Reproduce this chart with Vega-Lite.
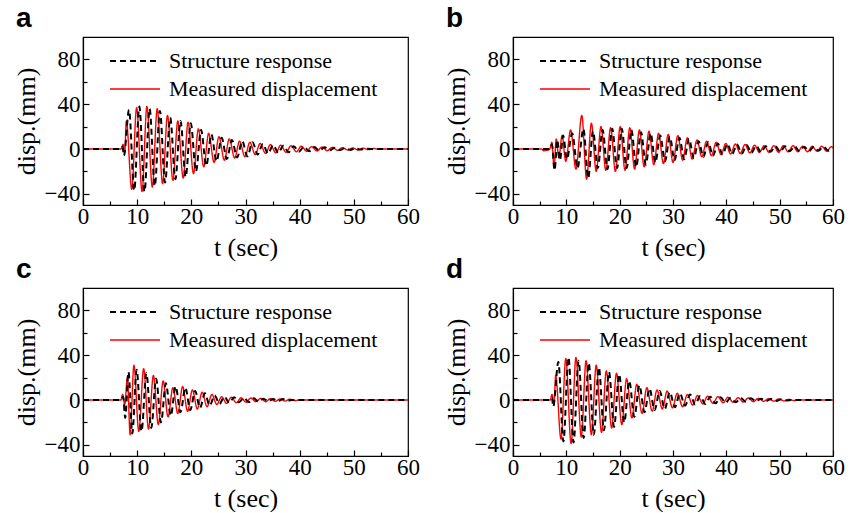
{
"$schema": "https://vega.github.io/schema/vega-lite/v6.json",
"background": "white",
"padding": {"left": 12, "top": 4, "right": 5, "bottom": 0},
"config": {
  "view": {"stroke": "#000", "strokeWidth": 1.2},
  "axis": {"domainColor": "#000", "domainWidth": 1.2, "tickColor": "#000", "tickWidth": 1.2, "labelColor": "#000", "titleColor": "#000", "titleFontWeight": "normal", "grid": false, "labelFlush": false, "labelOverlap": false},
  "axisX": {"labelFont": "Times New Roman", "titleFont": "Times New Roman"},
  "axisY": {"labelFont": "Times New Roman", "titleFont": "Times New Roman"},
  "legend": {"labelFont": "Liberation Serif", "labelFontSize": 22, "labelColor": "#000", "symbolStrokeWidth": 1.6, "labelOffset": 8, "padding": 0, "labelLimit": 0}
},
"datasets": {
"a": [{"s":"M","t":0,"v":0},{"s":"M","t":7,"v":0},{"s":"M","t":7.4,"v":4},{"s":"M","t":7.7,"v":-3},{"s":"M","t":8,"v":25},{"s":"M","t":9,"v":-36},{"s":"M","t":9.9,"v":37},{"s":"M","t":10.9,"v":-38},{"s":"M","t":11.8,"v":38},{"s":"M","t":12.8,"v":-34},{"s":"M","t":13.7,"v":36},{"s":"M","t":14.7,"v":-31},{"s":"M","t":15.6,"v":30},{"s":"M","t":16.6,"v":-28},{"s":"M","t":17.5,"v":25},{"s":"M","t":18.5,"v":-26},{"s":"M","t":19.4,"v":24},{"s":"M","t":20.4,"v":-22},{"s":"M","t":21.3,"v":18},{"s":"M","t":22.3,"v":-16},{"s":"M","t":23.2,"v":14},{"s":"M","t":24.2,"v":-12},{"s":"M","t":25.1,"v":11},{"s":"M","t":26.1,"v":-10},{"s":"M","t":27,"v":9},{"s":"M","t":28,"v":-8},{"s":"M","t":28.9,"v":7},{"s":"M","t":29.9,"v":-7},{"s":"M","t":30.8,"v":6},{"s":"M","t":31.8,"v":-5},{"s":"M","t":32.7,"v":5},{"s":"M","t":33.7,"v":-4},{"s":"M","t":34.6,"v":4},{"s":"M","t":35.6,"v":-3.5},{"s":"M","t":36.5,"v":3.5},{"s":"M","t":37.5,"v":-3},{"s":"M","t":38.4,"v":3},{"s":"M","t":39.4,"v":-2.5},{"s":"M","t":40.3,"v":2.5},{"s":"M","t":41.3,"v":-2},{"s":"M","t":42.2,"v":2},{"s":"M","t":43.2,"v":-1.8},{"s":"M","t":44.1,"v":1.8},{"s":"M","t":45.1,"v":-1.5},{"s":"M","t":46,"v":1.5},{"s":"M","t":47,"v":-1.2},{"s":"M","t":47.9,"v":1.2},{"s":"M","t":48.9,"v":-1},{"s":"M","t":49.8,"v":1},{"s":"M","t":50.8,"v":-1},{"s":"M","t":51.7,"v":0.8},{"s":"M","t":52.7,"v":-0.6},{"s":"M","t":53.6,"v":0.5},{"s":"M","t":54.6,"v":-0.3},{"s":"M","t":55.5,"v":0},{"s":"M","t":60,"v":0},
{"s":"S","t":0,"v":0},{"s":"S","t":7,"v":0},{"s":"S","t":7.3,"v":2},{"s":"S","t":7.55,"v":-6},{"s":"S","t":8.5,"v":35},{"s":"S","t":9.45,"v":-37},{"s":"S","t":10.4,"v":38},{"s":"S","t":11.35,"v":-38},{"s":"S","t":12.3,"v":36},{"s":"S","t":13.25,"v":-33},{"s":"S","t":14.2,"v":34},{"s":"S","t":15.15,"v":-30},{"s":"S","t":16.1,"v":28},{"s":"S","t":17.05,"v":-27},{"s":"S","t":18,"v":25},{"s":"S","t":18.95,"v":-25},{"s":"S","t":19.9,"v":23},{"s":"S","t":20.85,"v":-20},{"s":"S","t":21.8,"v":17},{"s":"S","t":22.75,"v":-15},{"s":"S","t":23.7,"v":13},{"s":"S","t":24.65,"v":-11},{"s":"S","t":25.6,"v":10},{"s":"S","t":26.55,"v":-9},{"s":"S","t":27.5,"v":8},{"s":"S","t":28.45,"v":-7.5},{"s":"S","t":29.4,"v":7},{"s":"S","t":30.35,"v":-6.5},{"s":"S","t":31.3,"v":6},{"s":"S","t":32.25,"v":-5},{"s":"S","t":33.2,"v":4.5},{"s":"S","t":34.15,"v":-4},{"s":"S","t":35.1,"v":3.5},{"s":"S","t":36.05,"v":-3.5},{"s":"S","t":37,"v":3},{"s":"S","t":37.95,"v":-3},{"s":"S","t":38.9,"v":2.5},{"s":"S","t":39.85,"v":-2.5},{"s":"S","t":40.8,"v":2},{"s":"S","t":41.75,"v":-2},{"s":"S","t":42.7,"v":1.8},{"s":"S","t":43.65,"v":-1.5},{"s":"S","t":44.6,"v":1.5},{"s":"S","t":45.55,"v":-1.2},{"s":"S","t":46.5,"v":1.2},{"s":"S","t":47.45,"v":-1},{"s":"S","t":48.4,"v":1},{"s":"S","t":49.35,"v":-0.8},{"s":"S","t":50.3,"v":0.8},{"s":"S","t":51.25,"v":-0.5},{"s":"S","t":52.2,"v":0.4},{"s":"S","t":53.15,"v":0},{"s":"S","t":60,"v":0}],
"b": [{"s":"M","t":0,"v":0},{"s":"M","t":5.4,"v":0},{"s":"M","t":5.7,"v":-1.5},{"s":"M","t":6.5,"v":-1},{"s":"M","t":6.9,"v":0},{"s":"M","t":7.3,"v":6},{"s":"M","t":7.7,"v":-17},{"s":"M","t":8.1,"v":9},{"s":"M","t":8.6,"v":-8},{"s":"M","t":9.2,"v":12},{"s":"M","t":9.9,"v":-11},{"s":"M","t":10.8,"v":17},{"s":"M","t":11.8,"v":-18},{"s":"M","t":12.9,"v":30},{"s":"M","t":13.8,"v":-27},{"s":"M","t":14.7,"v":23},{"s":"M","t":15.6,"v":-20},{"s":"M","t":16.5,"v":20},{"s":"M","t":17.4,"v":-19},{"s":"M","t":18.3,"v":19},{"s":"M","t":19.2,"v":-20},{"s":"M","t":20.1,"v":20},{"s":"M","t":21,"v":-19},{"s":"M","t":21.9,"v":19},{"s":"M","t":22.8,"v":-18},{"s":"M","t":23.7,"v":17},{"s":"M","t":24.6,"v":-16},{"s":"M","t":25.5,"v":16},{"s":"M","t":26.4,"v":-14},{"s":"M","t":27.3,"v":14},{"s":"M","t":28.2,"v":-13},{"s":"M","t":29.1,"v":13},{"s":"M","t":30,"v":-12},{"s":"M","t":30.9,"v":12},{"s":"M","t":31.8,"v":-10},{"s":"M","t":32.7,"v":10},{"s":"M","t":33.6,"v":-9},{"s":"M","t":34.5,"v":8},{"s":"M","t":35.4,"v":-7},{"s":"M","t":36.3,"v":7},{"s":"M","t":37.2,"v":-6},{"s":"M","t":38.1,"v":6},{"s":"M","t":39,"v":-5},{"s":"M","t":39.9,"v":5},{"s":"M","t":40.8,"v":-4.5},{"s":"M","t":41.7,"v":4.5},{"s":"M","t":42.6,"v":-4},{"s":"M","t":43.5,"v":4},{"s":"M","t":44.4,"v":-3.5},{"s":"M","t":45.3,"v":3.5},{"s":"M","t":46.2,"v":-3},{"s":"M","t":47.1,"v":3},{"s":"M","t":48,"v":-3},{"s":"M","t":48.9,"v":3},{"s":"M","t":49.8,"v":-3},{"s":"M","t":50.7,"v":3},{"s":"M","t":51.6,"v":-2.5},{"s":"M","t":52.5,"v":3},{"s":"M","t":53.4,"v":-2.5},{"s":"M","t":54.3,"v":2.5},{"s":"M","t":55.2,"v":-2.5},{"s":"M","t":56.1,"v":2.5},{"s":"M","t":57,"v":-2},{"s":"M","t":57.9,"v":2.5},{"s":"M","t":58.8,"v":-2},{"s":"M","t":59.7,"v":2},{"s":"M","t":60,"v":1.5},
{"s":"S","t":0,"v":0},{"s":"S","t":6.9,"v":0},{"s":"S","t":7.3,"v":4},{"s":"S","t":7.8,"v":-19},{"s":"S","t":8.3,"v":8},{"s":"S","t":8.8,"v":-10},{"s":"S","t":9.4,"v":12},{"s":"S","t":10.1,"v":-9},{"s":"S","t":11.1,"v":14},{"s":"S","t":12.1,"v":-17},{"s":"S","t":13.2,"v":18},{"s":"S","t":14.1,"v":-26},{"s":"S","t":15,"v":16},{"s":"S","t":15.9,"v":-17},{"s":"S","t":16.8,"v":17},{"s":"S","t":17.7,"v":-18},{"s":"S","t":18.6,"v":18},{"s":"S","t":19.5,"v":-17},{"s":"S","t":20.4,"v":18},{"s":"S","t":21.3,"v":-17},{"s":"S","t":22.2,"v":17},{"s":"S","t":23.1,"v":-16},{"s":"S","t":24,"v":15},{"s":"S","t":24.9,"v":-14},{"s":"S","t":25.8,"v":14},{"s":"S","t":26.7,"v":-12},{"s":"S","t":27.6,"v":12},{"s":"S","t":28.5,"v":-11},{"s":"S","t":29.4,"v":11},{"s":"S","t":30.3,"v":-10},{"s":"S","t":31.2,"v":10},{"s":"S","t":32.1,"v":-9},{"s":"S","t":33,"v":9},{"s":"S","t":33.9,"v":-8},{"s":"S","t":34.8,"v":7},{"s":"S","t":35.7,"v":-7},{"s":"S","t":36.6,"v":6},{"s":"S","t":37.5,"v":-6},{"s":"S","t":38.4,"v":5},{"s":"S","t":39.3,"v":-5},{"s":"S","t":40.2,"v":4.5},{"s":"S","t":41.1,"v":-4.5},{"s":"S","t":42,"v":4},{"s":"S","t":42.9,"v":-4},{"s":"S","t":43.8,"v":3.5},{"s":"S","t":44.7,"v":-3.5},{"s":"S","t":45.6,"v":3},{"s":"S","t":46.5,"v":-3},{"s":"S","t":47.4,"v":2.5},{"s":"S","t":48.3,"v":-2.5},{"s":"S","t":49.2,"v":2.5},{"s":"S","t":50.1,"v":-2.5},{"s":"S","t":51,"v":2.5},{"s":"S","t":51.9,"v":-2},{"s":"S","t":52.8,"v":2.5},{"s":"S","t":53.7,"v":-2},{"s":"S","t":54.6,"v":2},{"s":"S","t":55.5,"v":-2},{"s":"S","t":56.4,"v":2},{"s":"S","t":57.3,"v":-1.5},{"s":"S","t":58.2,"v":2},{"s":"S","t":59.1,"v":-1.5},{"s":"S","t":60,"v":0.5}],
"c": [{"s":"M","t":0,"v":0},{"s":"M","t":7,"v":0},{"s":"M","t":7.3,"v":5},{"s":"M","t":7.7,"v":-4},{"s":"M","t":8.2,"v":20},{"s":"M","t":8.7,"v":-31},{"s":"M","t":9.4,"v":31},{"s":"M","t":10.3,"v":-28},{"s":"M","t":11.2,"v":28},{"s":"M","t":12.1,"v":-26},{"s":"M","t":13,"v":22},{"s":"M","t":13.9,"v":-22},{"s":"M","t":14.8,"v":17},{"s":"M","t":15.7,"v":-15},{"s":"M","t":16.6,"v":11},{"s":"M","t":17.5,"v":-12},{"s":"M","t":18.4,"v":12},{"s":"M","t":19.3,"v":-10},{"s":"M","t":20.2,"v":9},{"s":"M","t":21.1,"v":-8},{"s":"M","t":22,"v":7},{"s":"M","t":22.9,"v":-6},{"s":"M","t":23.8,"v":5},{"s":"M","t":24.7,"v":-4},{"s":"M","t":25.6,"v":3},{"s":"M","t":26.5,"v":-3},{"s":"M","t":27.4,"v":2.5},{"s":"M","t":28.3,"v":-2.5},{"s":"M","t":29.2,"v":2},{"s":"M","t":30.1,"v":-2},{"s":"M","t":31,"v":1.8},{"s":"M","t":31.9,"v":-1.5},{"s":"M","t":32.8,"v":1.5},{"s":"M","t":33.7,"v":-1.5},{"s":"M","t":34.6,"v":1.2},{"s":"M","t":35.5,"v":-1.2},{"s":"M","t":36.4,"v":1},{"s":"M","t":37.3,"v":-1},{"s":"M","t":38.2,"v":0.8},{"s":"M","t":39.1,"v":-0.5},{"s":"M","t":40,"v":0},{"s":"M","t":60,"v":0},
{"s":"S","t":0,"v":0},{"s":"S","t":7,"v":0},{"s":"S","t":7.4,"v":3},{"s":"S","t":7.8,"v":-16},{"s":"S","t":8.4,"v":25},{"s":"S","t":9.1,"v":-30},{"s":"S","t":9.9,"v":27},{"s":"S","t":10.8,"v":-28},{"s":"S","t":11.7,"v":24},{"s":"S","t":12.6,"v":-25},{"s":"S","t":13.5,"v":19},{"s":"S","t":14.4,"v":-20},{"s":"S","t":15.3,"v":15},{"s":"S","t":16.2,"v":-14},{"s":"S","t":17.1,"v":12},{"s":"S","t":18,"v":-11},{"s":"S","t":18.9,"v":11},{"s":"S","t":19.8,"v":-9},{"s":"S","t":20.7,"v":8},{"s":"S","t":21.6,"v":-7},{"s":"S","t":22.5,"v":6},{"s":"S","t":23.4,"v":-5},{"s":"S","t":24.3,"v":4},{"s":"S","t":25.2,"v":-3.5},{"s":"S","t":26.1,"v":3},{"s":"S","t":27,"v":-2.5},{"s":"S","t":27.9,"v":2.5},{"s":"S","t":28.8,"v":-2},{"s":"S","t":29.7,"v":2},{"s":"S","t":30.6,"v":-1.8},{"s":"S","t":31.5,"v":1.5},{"s":"S","t":32.4,"v":-1.5},{"s":"S","t":33.3,"v":1.2},{"s":"S","t":34.2,"v":-1.2},{"s":"S","t":35.1,"v":1},{"s":"S","t":36,"v":-1},{"s":"S","t":36.9,"v":0.8},{"s":"S","t":37.8,"v":-0.5},{"s":"S","t":38.7,"v":0},{"s":"S","t":60,"v":0}],
"d": [{"s":"M","t":0,"v":0},{"s":"M","t":7,"v":0},{"s":"M","t":7.3,"v":5},{"s":"M","t":7.7,"v":-3},{"s":"M","t":8,"v":22},{"s":"M","t":9,"v":-35},{"s":"M","t":9.9,"v":37},{"s":"M","t":10.9,"v":-39},{"s":"M","t":11.8,"v":38},{"s":"M","t":12.8,"v":-33},{"s":"M","t":13.7,"v":35},{"s":"M","t":14.7,"v":-31},{"s":"M","t":15.6,"v":31},{"s":"M","t":16.6,"v":-29},{"s":"M","t":17.5,"v":26},{"s":"M","t":18.5,"v":-25},{"s":"M","t":19.4,"v":24},{"s":"M","t":20.4,"v":-22},{"s":"M","t":21.3,"v":19},{"s":"M","t":22.3,"v":-16},{"s":"M","t":23.2,"v":14},{"s":"M","t":24.2,"v":-12},{"s":"M","t":25.1,"v":11},{"s":"M","t":26.1,"v":-10},{"s":"M","t":27,"v":9},{"s":"M","t":28,"v":-8},{"s":"M","t":28.9,"v":8},{"s":"M","t":29.9,"v":-7},{"s":"M","t":30.8,"v":6},{"s":"M","t":31.8,"v":-6},{"s":"M","t":32.7,"v":5},{"s":"M","t":33.7,"v":-4.5},{"s":"M","t":34.6,"v":4},{"s":"M","t":35.6,"v":-3.5},{"s":"M","t":36.5,"v":3.5},{"s":"M","t":37.5,"v":-3},{"s":"M","t":38.4,"v":3},{"s":"M","t":39.4,"v":-2.5},{"s":"M","t":40.3,"v":2.5},{"s":"M","t":41.3,"v":-2},{"s":"M","t":42.2,"v":2},{"s":"M","t":43.2,"v":-1.8},{"s":"M","t":44.1,"v":1.8},{"s":"M","t":45.1,"v":-1.5},{"s":"M","t":46,"v":1.5},{"s":"M","t":47,"v":-1.2},{"s":"M","t":47.9,"v":1.2},{"s":"M","t":48.9,"v":-1},{"s":"M","t":49.8,"v":1},{"s":"M","t":50.8,"v":-0.8},{"s":"M","t":51.7,"v":0.6},{"s":"M","t":52.7,"v":-0.5},{"s":"M","t":53.6,"v":0.3},{"s":"M","t":54.6,"v":0},{"s":"M","t":60,"v":0},
{"s":"S","t":0,"v":0},{"s":"S","t":7,"v":0},{"s":"S","t":7.3,"v":2},{"s":"S","t":7.55,"v":-6},{"s":"S","t":8.5,"v":34},{"s":"S","t":9.45,"v":-37},{"s":"S","t":10.4,"v":38},{"s":"S","t":11.35,"v":-38},{"s":"S","t":12.3,"v":35},{"s":"S","t":13.25,"v":-34},{"s":"S","t":14.2,"v":33},{"s":"S","t":15.15,"v":-31},{"s":"S","t":16.1,"v":29},{"s":"S","t":17.05,"v":-27},{"s":"S","t":18,"v":25},{"s":"S","t":18.95,"v":-24},{"s":"S","t":19.9,"v":23},{"s":"S","t":20.85,"v":-20},{"s":"S","t":21.8,"v":17},{"s":"S","t":22.75,"v":-15},{"s":"S","t":23.7,"v":13},{"s":"S","t":24.65,"v":-11},{"s":"S","t":25.6,"v":10},{"s":"S","t":26.55,"v":-9},{"s":"S","t":27.5,"v":8},{"s":"S","t":28.45,"v":-8},{"s":"S","t":29.4,"v":7},{"s":"S","t":30.35,"v":-6.5},{"s":"S","t":31.3,"v":6},{"s":"S","t":32.25,"v":-5},{"s":"S","t":33.2,"v":5},{"s":"S","t":34.15,"v":-4},{"s":"S","t":35.1,"v":3.5},{"s":"S","t":36.05,"v":-3.5},{"s":"S","t":37,"v":3},{"s":"S","t":37.95,"v":-3},{"s":"S","t":38.9,"v":2.5},{"s":"S","t":39.85,"v":-2.5},{"s":"S","t":40.8,"v":2},{"s":"S","t":41.75,"v":-2},{"s":"S","t":42.7,"v":1.8},{"s":"S","t":43.65,"v":-1.5},{"s":"S","t":44.6,"v":1.5},{"s":"S","t":45.55,"v":-1.2},{"s":"S","t":46.5,"v":1.2},{"s":"S","t":47.45,"v":-1},{"s":"S","t":48.4,"v":1},{"s":"S","t":49.35,"v":-0.8},{"s":"S","t":50.3,"v":0.6},{"s":"S","t":51.25,"v":-0.4},{"s":"S","t":52.2,"v":0},{"s":"S","t":60,"v":0}]
},
"resolve": {"scale": {"color": "independent", "strokeDash": "independent", "strokeWidth": "independent"}, "legend": {"color": "independent", "strokeDash": "independent"}},
"spacing": -6,
"vconcat": [
{"hconcat": [
{"width": 325, "height": 168,
 "title": {"text": "a", "anchor": "start", "frame": "group", "dx": -67, "offset": 4, "font": "Liberation Sans", "fontSize": 28, "fontWeight": "bold", "color": "#000"},
 "data": {"name": "a"},
 "mark": {"type": "line", "interpolate": "monotone", "clip": true},
 "encoding": {
  "x": {"field": "t", "type": "quantitative", "scale": {"domain": [0, 60], "nice": false}, "axis": {"title": "t (sec)", "labelFontSize": 23, "titleFontSize": 26, "values": [0,5,10,15,20,25,30,35,40,45,50,55,60], "labelExpr": "datum.value % 10 === 0 ? datum.label : ''", "tickSize": {"condition": {"test": "datum.value % 10 === 0", "value": -6}, "value": -4}, "labelPadding": 6, "titlePadding": 4}},
  "y": {"field": "v", "type": "quantitative", "scale": {"domain": [-50, 100], "nice": false}, "axis": {"title": "disp.(mm)", "labelFontSize": 23, "titleFontSize": 26, "values": [-40,-20,0,20,40,60,80], "labelExpr": "datum.value % 40 === 0 ? datum.label : ''", "tickSize": {"condition": {"test": "datum.value % 40 === 0", "value": -6}, "value": -4}, "labelPadding": 9, "titlePadding": 5}},
  "color": {"field": "s", "type": "nominal", "scale": {"domain": ["S", "M"], "range": ["#000000", "#ff0000"]}, "legend": {"title": null, "orient": "none", "legendX": 26, "legendY": 10, "symbolType": "stroke", "symbolSize": 2500, "clipHeight": 28, "rowPadding": 0, "labelLimit": 0, "labelExpr": "datum.label === 'S' ? 'Structure response' : 'Measured displacement'"}},
  "strokeDash": {"field": "s", "type": "nominal", "scale": {"domain": ["S", "M"], "range": [[6, 4], [1, 0]]}, "legend": {"title": null, "orient": "none", "legendX": 26, "legendY": 10, "symbolType": "stroke", "symbolSize": 2500, "clipHeight": 28, "rowPadding": 0, "labelLimit": 0, "labelExpr": "datum.label === 'S' ? 'Structure response' : 'Measured displacement'"}},
  "strokeWidth": {"field": "s", "type": "nominal", "scale": {"domain": ["S", "M"], "range": [2, 1.4]}, "legend": null}
 }},
{"width": 320, "height": 168,
 "title": {"text": "b", "anchor": "start", "frame": "group", "dx": -67, "offset": 4, "font": "Liberation Sans", "fontSize": 28, "fontWeight": "bold", "color": "#000"},
 "data": {"name": "b"},
 "mark": {"type": "line", "interpolate": "monotone", "clip": true},
 "encoding": {
  "x": {"field": "t", "type": "quantitative", "scale": {"domain": [0, 60], "nice": false}, "axis": {"title": "t (sec)", "labelFontSize": 23, "titleFontSize": 26, "values": [0,5,10,15,20,25,30,35,40,45,50,55,60], "labelExpr": "datum.value % 10 === 0 ? datum.label : ''", "tickSize": {"condition": {"test": "datum.value % 10 === 0", "value": -6}, "value": -4}, "labelPadding": 6, "titlePadding": 4}},
  "y": {"field": "v", "type": "quantitative", "scale": {"domain": [-50, 100], "nice": false}, "axis": {"title": "disp.(mm)", "labelFontSize": 23, "titleFontSize": 26, "values": [-40,-20,0,20,40,60,80], "labelExpr": "datum.value % 40 === 0 ? datum.label : ''", "tickSize": {"condition": {"test": "datum.value % 40 === 0", "value": -6}, "value": -4}, "labelPadding": 9, "titlePadding": 5}},
  "color": {"field": "s", "type": "nominal", "scale": {"domain": ["S", "M"], "range": ["#000000", "#ff0000"]}, "legend": {"title": null, "orient": "none", "legendX": 26, "legendY": 10, "symbolType": "stroke", "symbolSize": 2500, "clipHeight": 28, "rowPadding": 0, "labelLimit": 0, "labelExpr": "datum.label === 'S' ? 'Structure response' : 'Measured displacement'"}},
  "strokeDash": {"field": "s", "type": "nominal", "scale": {"domain": ["S", "M"], "range": [[6, 4], [1, 0]]}, "legend": {"title": null, "orient": "none", "legendX": 26, "legendY": 10, "symbolType": "stroke", "symbolSize": 2500, "clipHeight": 28, "rowPadding": 0, "labelLimit": 0, "labelExpr": "datum.label === 'S' ? 'Structure response' : 'Measured displacement'"}},
  "strokeWidth": {"field": "s", "type": "nominal", "scale": {"domain": ["S", "M"], "range": [2, 1.4]}, "legend": null}
 }}
], "spacing": 21, "resolve": {"scale": {"color": "independent", "strokeDash": "independent", "strokeWidth": "independent"}, "legend": {"color": "independent", "strokeDash": "independent"}}},
{"hconcat": [
{"width": 325, "height": 168,
 "title": {"text": "c", "anchor": "start", "frame": "group", "dx": -67, "offset": 4, "font": "Liberation Sans", "fontSize": 28, "fontWeight": "bold", "color": "#000"},
 "data": {"name": "c"},
 "mark": {"type": "line", "interpolate": "monotone", "clip": true},
 "encoding": {
  "x": {"field": "t", "type": "quantitative", "scale": {"domain": [0, 60], "nice": false}, "axis": {"title": "t (sec)", "labelFontSize": 23, "titleFontSize": 26, "values": [0,5,10,15,20,25,30,35,40,45,50,55,60], "labelExpr": "datum.value % 10 === 0 ? datum.label : ''", "tickSize": {"condition": {"test": "datum.value % 10 === 0", "value": -6}, "value": -4}, "labelPadding": 6, "titlePadding": 4}},
  "y": {"field": "v", "type": "quantitative", "scale": {"domain": [-50, 100], "nice": false}, "axis": {"title": "disp.(mm)", "labelFontSize": 23, "titleFontSize": 26, "values": [-40,-20,0,20,40,60,80], "labelExpr": "datum.value % 40 === 0 ? datum.label : ''", "tickSize": {"condition": {"test": "datum.value % 40 === 0", "value": -6}, "value": -4}, "labelPadding": 9, "titlePadding": 5}},
  "color": {"field": "s", "type": "nominal", "scale": {"domain": ["S", "M"], "range": ["#000000", "#ff0000"]}, "legend": {"title": null, "orient": "none", "legendX": 26, "legendY": 10, "symbolType": "stroke", "symbolSize": 2500, "clipHeight": 28, "rowPadding": 0, "labelLimit": 0, "labelExpr": "datum.label === 'S' ? 'Structure response' : 'Measured displacement'"}},
  "strokeDash": {"field": "s", "type": "nominal", "scale": {"domain": ["S", "M"], "range": [[6, 4], [1, 0]]}, "legend": {"title": null, "orient": "none", "legendX": 26, "legendY": 10, "symbolType": "stroke", "symbolSize": 2500, "clipHeight": 28, "rowPadding": 0, "labelLimit": 0, "labelExpr": "datum.label === 'S' ? 'Structure response' : 'Measured displacement'"}},
  "strokeWidth": {"field": "s", "type": "nominal", "scale": {"domain": ["S", "M"], "range": [2, 1.4]}, "legend": null}
 }},
{"width": 320, "height": 168,
 "title": {"text": "d", "anchor": "start", "frame": "group", "dx": -67, "offset": 4, "font": "Liberation Sans", "fontSize": 28, "fontWeight": "bold", "color": "#000"},
 "data": {"name": "d"},
 "mark": {"type": "line", "interpolate": "monotone", "clip": true},
 "encoding": {
  "x": {"field": "t", "type": "quantitative", "scale": {"domain": [0, 60], "nice": false}, "axis": {"title": "t (sec)", "labelFontSize": 23, "titleFontSize": 26, "values": [0,5,10,15,20,25,30,35,40,45,50,55,60], "labelExpr": "datum.value % 10 === 0 ? datum.label : ''", "tickSize": {"condition": {"test": "datum.value % 10 === 0", "value": -6}, "value": -4}, "labelPadding": 6, "titlePadding": 4}},
  "y": {"field": "v", "type": "quantitative", "scale": {"domain": [-50, 100], "nice": false}, "axis": {"title": "disp.(mm)", "labelFontSize": 23, "titleFontSize": 26, "values": [-40,-20,0,20,40,60,80], "labelExpr": "datum.value % 40 === 0 ? datum.label : ''", "tickSize": {"condition": {"test": "datum.value % 40 === 0", "value": -6}, "value": -4}, "labelPadding": 9, "titlePadding": 5}},
  "color": {"field": "s", "type": "nominal", "scale": {"domain": ["S", "M"], "range": ["#000000", "#ff0000"]}, "legend": {"title": null, "orient": "none", "legendX": 26, "legendY": 10, "symbolType": "stroke", "symbolSize": 2500, "clipHeight": 28, "rowPadding": 0, "labelLimit": 0, "labelExpr": "datum.label === 'S' ? 'Structure response' : 'Measured displacement'"}},
  "strokeDash": {"field": "s", "type": "nominal", "scale": {"domain": ["S", "M"], "range": [[6, 4], [1, 0]]}, "legend": {"title": null, "orient": "none", "legendX": 26, "legendY": 10, "symbolType": "stroke", "symbolSize": 2500, "clipHeight": 28, "rowPadding": 0, "labelLimit": 0, "labelExpr": "datum.label === 'S' ? 'Structure response' : 'Measured displacement'"}},
  "strokeWidth": {"field": "s", "type": "nominal", "scale": {"domain": ["S", "M"], "range": [2, 1.4]}, "legend": null}
 }}
], "spacing": 21, "resolve": {"scale": {"color": "independent", "strokeDash": "independent", "strokeWidth": "independent"}, "legend": {"color": "independent", "strokeDash": "independent"}}}
]
}
